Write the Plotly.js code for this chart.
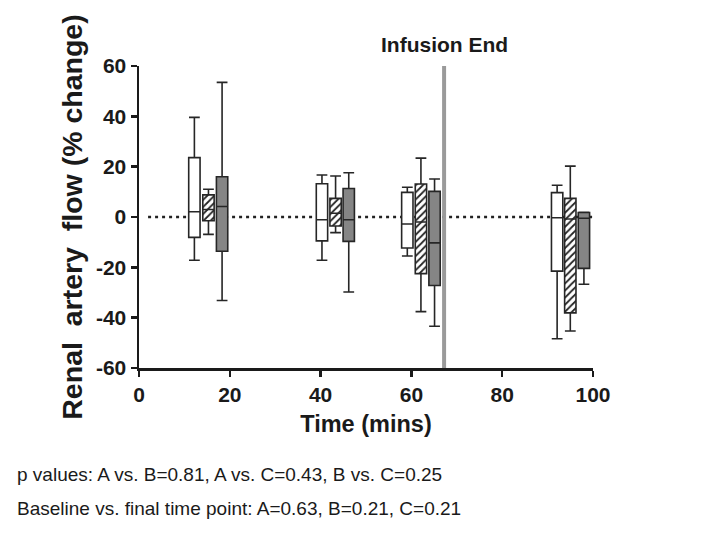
<!DOCTYPE html>
<html>
<head>
<meta charset="utf-8">
<script src="https://cdn.plot.ly/plotly-3.0.1.min.js"></script>
<style>html,body{margin:0;padding:0;background:#fff;}#chart{width:708px;height:542px;}</style>
</head>
<body>
<div id="chart"></div>
<script>
// Box positions (time, mins) for each group
const timeA = [12.2, 40.3, 59.1, 92.1];
const timeB = [15.3, 43.3, 62.1, 95.0];
const timeC = [18.3, 46.2, 65.1, 98.0];

// Group A (open boxes)
const upperA = [39.6, 16.7, 11.8, 12.6];
const q3A    = [23.6, 13.2, 9.8, 9.7];
const medA   = [2.1, -1.1, -2.8, -0.3];
const q1A    = [-8.1, -9.5, -12.3, -21.5];
const lowerA = [-17.2, -17.2, -15.5, -48.4];

// Group B (hatched boxes)
const upperB = [11.0, 16.3, 23.4, 20.2];
const q3B    = [8.8, 7.4, 13.1, 7.4];
const medB   = [3.0, 1.5, -2.0, -0.8];
const q1B    = [-1.5, -3.6, -22.5, -38.1];
const lowerB = [-6.9, -6.2, -37.6, -45.3];

// Group C (dark grey boxes)
const upperC = [53.5, 17.6, 15.1, 1.9];
const q3C    = [16.0, 11.3, 10.2, 1.8];
const medC   = [4.2, -1.1, -10.3, -0.5];
const q1C    = [-13.6, -9.7, -27.2, -20.4];
const lowerC = [-33.2, -29.8, -43.4, -26.7];

const infusionEnd = 67.2;
const xTicks = [0, 20, 40, 60, 80, 100];
const yTicks = [-60, -40, -20, 0, 20, 40, 60];
const yTickText = ['-60', '-40', '-20', '0', '20', '40', '60'];

const FONT = 'Arial, "Liberation Sans", Helvetica, sans-serif';
const INK = '#1a1a1a';
const BOXW = 2.5;

function boxTrace(name, x, lo, q1, med, q3, hi, fill) {
  return {
    type: 'box', name: name, orientation: 'v',
    x: x, lowerfence: lo, q1: q1, median: med, q3: q3, upperfence: hi,
    width: BOXW, whiskerwidth: 0.95,
    fillcolor: fill,
    line: {color: '#262626', width: 1.6},
    boxpoints: false, showlegend: false, hoverinfo: 'skip'
  };
}

const hatchB = {
  type: 'bar', x: timeB,
  y: q3B.map((v, i) => v - q1B[i]),
  base: q1B, width: BOXW,
  marker: {color: 'white', line: {width: 0},
           pattern: {shape: '/', fgcolor: '#222', bgcolor: 'white', size: 5, solidity: 0.35}},
  showlegend: false, hoverinfo: 'skip'
};

const data = [
  hatchB,
  boxTrace('A', timeA, lowerA, q1A, medA, q3A, upperA, 'white'),
  boxTrace('B', timeB, lowerB, q1B, medB, q3B, upperB, 'rgba(0,0,0,0)'),
  boxTrace('C', timeC, lowerC, q1C, medC, q3C, upperC, '#858585')
];

const axisCommon = {
  showgrid: false, zeroline: false, showline: true,
  linecolor: INK, linewidth: 2.5,
  ticks: 'outside', ticklen: 6, tickwidth: 2.5, tickcolor: INK,
  tickfont: {family: FONT, size: 21, color: INK, weight: 700}
};

const layout = {
  width: 708, height: 542,
  margin: {l: 139, r: 115, t: 66, b: 174},
  paper_bgcolor: 'white', plot_bgcolor: 'white',
  showlegend: false, boxmode: 'overlay', barmode: 'overlay',
  xaxis: Object.assign({}, axisCommon, {
    range: [0, 100], tickvals: xTicks,
    title: {text: 'Time (mins)', font: {family: FONT, size: 23.5, color: INK, weight: 700}, standoff: 11}
  }),
  yaxis: Object.assign({}, axisCommon, {
    range: [-60, 60], tickvals: yTicks, ticktext: yTickText,
    title: {text: 'Renal  artery  flow (% change)', font: {family: FONT, size: 28.5, color: INK, weight: 700}, standoff: 5}
  }),
  shapes: [
    {type: 'line', xref: 'x', yref: 'y', x0: 2, x1: 100, y0: 0, y1: 0,
     line: {color: '#222', width: 2.5, dash: '3px,4px'}, layer: 'below'},
    {type: 'line', xref: 'x', yref: 'y', x0: infusionEnd, x1: infusionEnd, y0: -60, y1: 60,
     line: {color: '#9a9a9a', width: 4}, layer: 'above'}
  ],
  annotations: [
    {text: 'Infusion End', xref: 'x', yref: 'paper', x: infusionEnd, y: 1.07,
     xanchor: 'center', yanchor: 'middle', showarrow: false,
     font: {family: FONT, size: 21, color: INK, weight: 700}},
    {text: 'p values: A vs. B=0.81, A vs. C=0.43, B vs. C=0.25', xref: 'paper', yref: 'paper',
     x: -0.273, y: -0.351, xanchor: 'left', yanchor: 'middle', showarrow: false,
     font: {family: FONT, size: 19, color: INK}},
    {text: 'Baseline vs. final time point: A=0.63, B=0.21, C=0.21', xref: 'paper', yref: 'paper',
     x: -0.273, y: -0.4636, xanchor: 'left', yanchor: 'middle', showarrow: false,
     font: {family: FONT, size: 19, color: INK}}
  ]
};

Plotly.newPlot('chart', data, layout, {staticPlot: true, displayModeBar: false});
</script>
</body>
</html>
